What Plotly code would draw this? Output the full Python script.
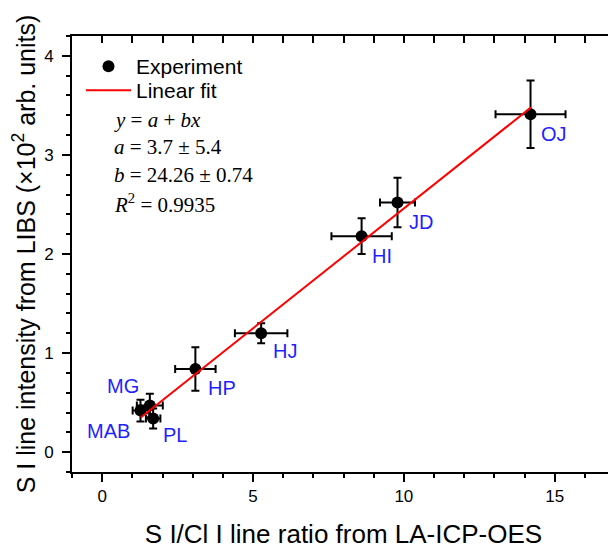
import plotly.graph_objects as go

# ---- data ----
samples = ["MAB", "MG", "PL", "HP", "HJ", "HI", "JD", "OJ"]
ratio_x = [1.27, 1.58, 1.69, 3.09, 5.27, 8.60, 9.79, 14.20]
libs_y = [0.42, 0.47, 0.34, 0.84, 1.20, 2.18, 2.52, 3.41]
ratio_err = [0.26, 0.43, 0.24, 0.67, 0.87, 1.00, 0.58, 1.16]
libs_err = [0.11, 0.12, 0.10, 0.22, 0.10, 0.18, 0.25, 0.34]
fit_x = [1.28, 14.22]
fit_y = [0.35, 3.48]
x_ticks = [0, 5, 10, 15]
y_ticks = [0, 1, 2, 3, 4]
fit_lines = [
    "<i>y</i> = <i>a</i> + <i>bx</i>",
    "<i>a</i> = 3.7 ± 5.4",
    "<i>b</i> = 24.26 ± 0.74",
    "<i>R</i><sup>2</sup> = 0.9935",
]

# label pixel offsets (dx right, dy up)
label_offsets = {
    "MAB": (-32, -20), "MG": (-27, 20), "PL": (22, -17), "HP": (27, -19),
    "HJ": (24, -18), "HI": (20, -20), "JD": (23, -20), "OJ": (23, -20),
}

SANS = "Liberation Sans, Arial, sans-serif"
SERIF = "Liberation Serif, Times New Roman, serif"
XR = [-1, 17]
YR = [-0.2, 4.2]

# the page body adds an 8px margin, so the figure is shifted by 8px
OFF = 8
W, H = 616 - OFF, 549 - OFF
ML, MR, MT = 72 - OFF, 1, 36 - OFF
MB = H - (472 - OFF)
PW = W - ML - MR
PH = H - MT - MB


def px_x(px):  # page pixel -> paper x
    return (px - OFF - ML) / PW


def px_y(py):  # page pixel -> paper y
    return (H - MB - (py - OFF)) / PH


fig = go.Figure()
fig.add_trace(go.Scatter(
    x=ratio_x, y=libs_y, mode="markers", name="Experiment", legend="legend",
    marker=dict(color="black", size=12),
    error_x=dict(type="data", array=ratio_err, color="black", thickness=2, width=4),
    error_y=dict(type="data", array=libs_err, color="black", thickness=2, width=4),
))
fig.add_trace(go.Scatter(
    x=fit_x, y=fit_y, mode="lines", name="Linear fit", legend="legend2",
    line=dict(color="red", width=2),
))
# invisible trace for mirrored (inside) ticks on top/right
fig.add_trace(go.Scatter(x=[XR[0]], y=[YR[0]], xaxis="x2", yaxis="y2",
                         mode="markers", marker=dict(opacity=0), showlegend=False,
                         hoverinfo="skip"))

for s, xv, yv in zip(samples, ratio_x, libs_y):
    dx, dy = label_offsets[s]
    fig.add_annotation(x=xv, y=yv, text=s, showarrow=False, xshift=dx, yshift=dy,
                       font=dict(family=SANS, size=20, color="#1f1fff"))

ypix = [120, 147, 175, 203]
for t, py in zip(fit_lines, ypix):
    fig.add_annotation(xref="paper", yref="paper", x=px_x(112),
                       y=px_y(py), text=t, showarrow=False,
                       xanchor="left", yanchor="middle",
                       font=dict(family=SERIF, size=21, color="black"))

legend_style = dict(xanchor="left", yanchor="top", bgcolor="rgba(0,0,0,0)",
                    font=dict(family=SANS, size=21), itemwidth=45)

fig.update_layout(
    width=W, height=H,
    margin=dict(l=ML, r=MR, t=MT, b=MB, autoexpand=False),
    plot_bgcolor="white", paper_bgcolor="white",
    font=dict(family=SANS, color="black"),
    showlegend=True,
    legend=dict(x=px_x(81), y=px_y(46), **legend_style),
    legend2=dict(x=px_x(81), y=px_y(70), **legend_style),
    xaxis=dict(
        range=XR, tickmode="array", tickvals=x_ticks, automargin=False,
        showline=True, linecolor="black", linewidth=2, mirror=True,
        ticks="outside", ticklen=8, tickwidth=1.5, tickcolor="black",
        minor=dict(dtick=1, ticks="outside", ticklen=4, tickwidth=1.5, tickcolor="black"),
        showgrid=False, zeroline=False,
        tickfont=dict(family=SANS, size=17),
        title=dict(text="S I/Cl I line ratio from LA-ICP-OES",
                   font=dict(family=SANS, size=26), standoff=24),
    ),
    yaxis=dict(
        range=YR, tickmode="array", tickvals=y_ticks, automargin=False,
        showline=True, linecolor="black", linewidth=2, mirror=True,
        ticks="outside", ticklen=8, tickwidth=1.5, tickcolor="black",
        minor=dict(dtick=0.2, ticks="outside", ticklen=4, tickwidth=1.5, tickcolor="black"),
        showgrid=False, zeroline=False, ticklabelstandoff=5,
        tickfont=dict(family=SANS, size=17),
        title=dict(text="S I line intensity from LIBS (×10<sup>2</sup> arb. units)",
                   font=dict(family=SANS, size=25), standoff=20),
    ),
    xaxis2=dict(
        range=XR, overlaying="x", side="top", anchor="y2",
        dtick=1, tick0=0, ticks="inside", ticklen=7, tickwidth=1.5, tickcolor="black",
        showticklabels=False, showgrid=False, zeroline=False, showline=False,
    ),
    yaxis2=dict(
        range=YR, overlaying="y", side="right", anchor="x2",
        dtick=0.2, tick0=0, ticks="inside", ticklen=7, tickwidth=1.5, tickcolor="black",
        showticklabels=False, showgrid=False, zeroline=False, showline=False,
    ),
)

fig.write_html("out.html")
